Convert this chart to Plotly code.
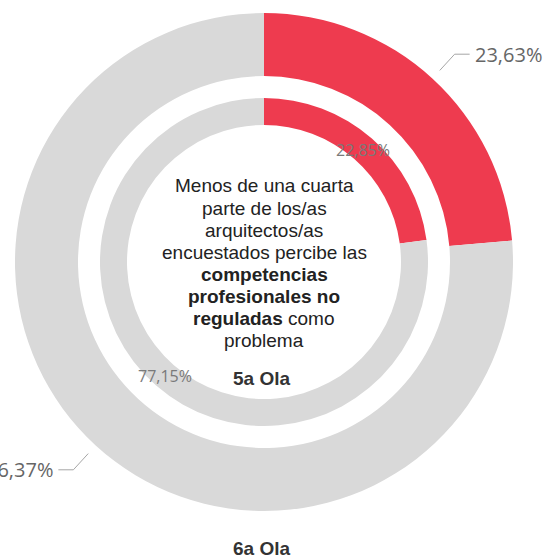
import numpy as np
import plotly.graph_objects as go

# Figure size in pixels
W, H = 543, 559

# Data: share of respondents who see non-regulated professional skills as a problem
segments = ["Lo percibe como problema", "No lo percibe como problema"]
outer_wave = "6a Ola"
inner_wave = "5a Ola"
outer_values = [23.63, 76.37]
inner_values = [22.85, 77.15]
seg_colors = ["#EE3B4F", "#D9D9D9"]

center_lines = [
    "Menos de una cuarta",
    "parte de los/as",
    "arquitectos/as",
    "encuestados percibe las",
    "<b>competencias</b>",
    "<b>profesionales no</b>",
    "<b>reguladas</b> como",
    "problema",
]

# Ring geometry (pixels)
CX, CY = 264, 262
R_OUT, HOLE_OUT = 249, 186
R_IN, HOLE_IN = 164, 137


def to_paper(x, y):
    return x / W, 1 - y / H


def polar(r, frac):
    a = 2 * np.pi * frac
    return CX + r * np.sin(a), CY - r * np.cos(a)


def domain(r):
    x0, y1 = to_paper(CX - r, CY - r)
    x1, y0 = to_paper(CX + r, CY + r)
    return dict(x=[x0, x1], y=[y0, y1])


def fmt(v):
    return f"{v:.2f}".replace(".", ",") + "%"


def mid_fracs(values):
    total = sum(values)
    cum = np.cumsum([0] + list(values))[:-1]
    return [(c + v / 2) / total for c, v in zip(cum, values)]


fig = go.Figure()
fig.add_trace(go.Pie(
    labels=segments, values=outer_values, name=outer_wave,
    hole=HOLE_OUT / R_OUT, domain=domain(R_OUT),
    sort=False, direction="clockwise", rotation=0,
    marker=dict(colors=seg_colors, line=dict(width=0)),
    textinfo="none", showlegend=False,
))
fig.add_trace(go.Pie(
    labels=segments, values=inner_values, name=inner_wave,
    hole=HOLE_IN / R_IN, domain=domain(R_IN),
    sort=False, direction="clockwise", rotation=0,
    marker=dict(colors=seg_colors, line=dict(width=0)),
    textinfo="none", showlegend=False,
))

shapes = []
annotations = []

# Outer ring: labels outside with elbow leader lines
for v, f in zip(outer_values, mid_fracs(outer_values)):
    p0 = polar(R_OUT + 11, f)
    p1 = polar(R_OUT + 33, f)
    side = 1 if p1[0] >= CX else -1
    p2 = (p1[0] + side * 15, p1[1])
    pts = [to_paper(*p) for p in (p0, p1, p2)]
    path = "M {} {} L {} {} L {} {}".format(*[c for p in pts for c in p])
    shapes.append(dict(type="path", path=path, xref="paper", yref="paper",
                       line=dict(color="#A6A6A6", width=1)))
    tx, ty = to_paper(p2[0] + side * 3, p2[1])
    annotations.append(dict(
        x=tx, y=ty, xref="paper", yref="paper", showarrow=False,
        text=fmt(v), xanchor="left" if side > 0 else "right", yanchor="middle",
        font=dict(family="Open Sans", size=20, color="#666666"),
    ))

# Inner ring: labels centred on the ring band
for v, f in zip(inner_values, mid_fracs(inner_values)):
    x, y = polar((R_IN + HOLE_IN) / 2, f)
    tx, ty = to_paper(x, y + 1)
    annotations.append(dict(
        x=tx, y=ty, xref="paper", yref="paper", showarrow=False,
        text=fmt(v), xanchor="center", yanchor="middle",
        font=dict(family="Open Sans", size=16, color="#7A7A7A"),
    ))

# Centre text, one line per annotation for tight spacing
line_gap = 22
y_first = CY + 1 - line_gap * (len(center_lines) - 1) / 2
for i, line in enumerate(center_lines):
    tx, ty = to_paper(CX, y_first + i * line_gap)
    annotations.append(dict(
        x=tx, y=ty, xref="paper", yref="paper", showarrow=False,
        text=line, xanchor="center", yanchor="middle",
        font=dict(family="Liberation Sans", size=19, color="#222222"),
    ))

# Wave titles
for label, ypx in ((inner_wave, 378), (outer_wave, 548)):
    tx, ty = to_paper(CX - 3, ypx)
    annotations.append(dict(
        x=tx, y=ty, xref="paper", yref="paper", showarrow=False,
        text=f"<b>{label}</b>", xanchor="center", yanchor="middle",
        font=dict(family="Liberation Sans", size=19, color="#333333"),
    ))

fig.update_layout(
    width=W, height=H,
    margin=dict(l=0, r=0, t=0, b=0),
    paper_bgcolor="white", plot_bgcolor="white",
    shapes=shapes, annotations=annotations,
)

fig.write_html("out.html")
